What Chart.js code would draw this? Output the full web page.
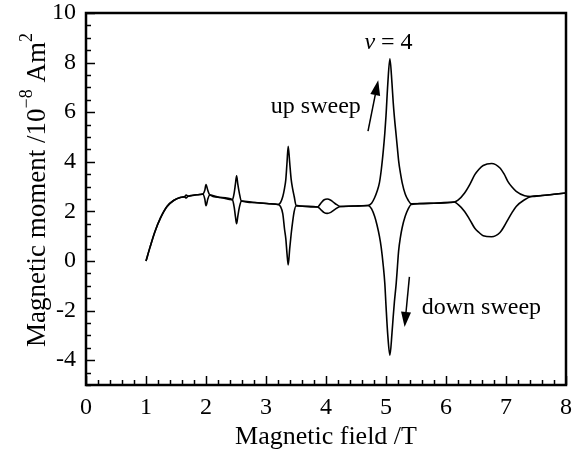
<!DOCTYPE html>
<html>
<head>
<meta charset="utf-8">
<script src="https://cdn.jsdelivr.net/npm/chart.js@4/dist/chart.umd.min.js"></script>
<style>
  html, body { margin: 0; padding: 0; background: #fff; }
  #wrap { width: 572px; height: 455px; }
</style>
</head>
<body>
<div id="wrap"><canvas id="chart" width="572" height="455"></canvas></div>
<script>
// magnetic field (T), shared by both sweeps
var field = [
    1.00, 1.07, 1.15, 1.24, 1.35, 1.46, 1.57, 1.64, 1.67, 1.70,
    1.85, 1.95, 1.98, 2.00, 2.03, 2.06, 2.24, 2.44, 2.47, 2.49,
    2.51, 2.53, 2.555, 2.59, 2.80, 3.05, 3.20, 3.24, 3.28, 3.31,
    3.33, 3.35, 3.37, 3.395, 3.42, 3.445, 3.47, 3.50, 3.86, 3.92,
    3.97, 4.02, 4.08, 4.15, 4.24, 4.50, 4.70, 4.76, 4.81, 4.85,
    4.89, 4.92, 4.955, 4.98, 5.00, 5.03, 5.065, 5.10, 5.12, 5.14,
    5.17, 5.19, 5.21, 5.24, 5.27, 5.32, 5.37, 5.42, 5.80, 6.14,
    6.20, 6.31, 6.40, 6.48, 6.55, 6.62, 6.76, 6.90, 6.97, 7.03,
    7.10, 7.17, 7.31, 7.42, 7.60, 7.80, 8.00
];

// magnetic moment (10^-8 Am^2)
var upSweep = [
    0.00, 0.58, 1.19, 1.73, 2.20, 2.44, 2.56, 2.59, 2.66, 2.61,
    2.67, 2.70, 2.85, 3.08, 2.85, 2.68, 2.56, 2.47, 2.75, 3.10,
    3.44, 3.10, 2.75, 2.42, 2.36, 2.31, 2.28, 2.35, 2.60, 2.95,
    3.28, 3.96, 4.63, 3.96, 3.28, 2.90, 2.60, 2.25, 2.18, 2.35,
    2.47, 2.50, 2.45, 2.32, 2.20, 2.22, 2.24, 2.33, 2.55, 2.80,
    3.15, 3.65, 4.45, 5.15, 5.85, 7.15, 8.15, 7.15, 6.40, 5.80,
    5.05, 4.55, 4.05, 3.55, 3.15, 2.70, 2.45, 2.31, 2.33, 2.38,
    2.45, 2.74, 3.10, 3.48, 3.70, 3.85, 3.93, 3.75, 3.50, 3.21,
    2.98, 2.81, 2.63, 2.60, 2.64, 2.69, 2.74
];

var downSweep = [
    0.00, 0.58, 1.19, 1.73, 2.20, 2.44, 2.56, 2.59, 2.54, 2.61,
    2.67, 2.70, 2.50, 2.23, 2.50, 2.66, 2.56, 2.47, 2.17, 1.80,
    1.50, 1.80, 2.15, 2.42, 2.36, 2.31, 2.28, 2.20, 1.90, 1.26,
    0.90, 0.30, -0.16, 0.50, 1.10, 1.60, 2.00, 2.22, 2.18, 2.05,
    1.95, 1.92, 1.96, 2.08, 2.20, 2.22, 2.24, 2.10, 1.80, 1.45,
    1.00, 0.55, -0.20, -0.90, -1.80, -3.00, -3.80, -2.90, -2.25, -1.65,
    -0.90, -0.25, 0.40, 0.95, 1.35, 1.80, 2.10, 2.28, 2.33, 2.38,
    2.28, 2.00, 1.65, 1.32, 1.15, 1.02, 0.98, 1.15, 1.40, 1.66,
    1.95, 2.20, 2.47, 2.60, 2.64, 2.69, 2.74
];

var xTickValues = [0, 1, 2, 3, 4, 5, 6, 7, 8];
var yTickValues = [-4, -2, 0, 2, 4, 6, 8, 10];

var serif = "'Liberation Serif', 'Times New Roman', serif";

function toPoints(ys) {
    return field.map((x, i) => ({ x: x, y: ys[i] }));
}

// inward ticks, frame, axis titles and annotations
var decorations = {
    id: "decorations",
    afterDraw(chart) {
        var ctx = chart.ctx;
        var area = chart.chartArea;
        var xs = chart.scales.x;
        var ys = chart.scales.y;
        ctx.save();
        ctx.strokeStyle = "#000";
        ctx.fillStyle = "#000";

        ctx.lineWidth = 1.5;
        for (var i = 0; i <= 40; i++) {
            var v = i * 0.2;
            var px = Math.round(xs.getPixelForValue(v)) + 0.5;
            var len = i % 5 === 0 ? 9 : 5;
            ctx.beginPath();
            ctx.moveTo(px, area.bottom);
            ctx.lineTo(px, area.bottom - len);
            ctx.stroke();
        }
        for (var j = 0; j <= 30; j++) {
            var w = -5 + j * 0.5;
            var py = Math.round(ys.getPixelForValue(w)) + 0.5;
            var l = j % 4 === 2 ? 9 : 5;
            ctx.beginPath();
            ctx.moveTo(area.left, py);
            ctx.lineTo(area.left + l, py);
            ctx.stroke();
        }

        ctx.lineWidth = 2.5;
        ctx.strokeRect(area.left, area.top, area.right - area.left, area.bottom - area.top);

        // x title
        ctx.font = "26px " + serif;
        ctx.textAlign = "center";
        ctx.textBaseline = "middle";
        ctx.fillText("Magnetic field /T", (area.left + area.right) / 2, 437);

        // y title with superscripts
        var parts = [
            ["Magnetic moment /10", 27, 0],
            ["\u22128", 18, -11],
            [" Am", 27, 0],
            ["2", 18, -11]
        ];
        var total = 0;
        parts.forEach(p => { ctx.font = p[1] + "px " + serif; total += ctx.measureText(p[0]).width; });
        ctx.translate(29, 190);
        ctx.rotate(-Math.PI / 2);
        ctx.textAlign = "left";
        var cx = -total / 2;
        parts.forEach(p => {
            ctx.font = p[1] + "px " + serif;
            ctx.fillText(p[0], cx, 9 + p[2]);
            cx += ctx.measureText(p[0]).width;
        });
        ctx.setTransform(1, 0, 0, 1, 0, 0);

        // nu = 4
        ctx.textAlign = "left";
        ctx.textBaseline = "alphabetic";
        ctx.font = "italic 24px " + serif;
        var nx = xs.getPixelForValue(4.64);
        var ny = ys.getPixelForValue(8.55);
        ctx.fillText("\u03bd", nx, ny);
        var nw = ctx.measureText("\u03bd").width;
        ctx.font = "24px " + serif;
        ctx.fillText(" = 4", nx + nw, ny);

        ctx.font = "24px " + serif;
        ctx.textAlign = "center";
        ctx.fillText("up sweep", xs.getPixelForValue(3.83), ys.getPixelForValue(5.95));
        ctx.fillText("down sweep", xs.getPixelForValue(6.59), ys.getPixelForValue(-2.15));

        function arrow(x1, y1, x2, y2) {
            var ax = xs.getPixelForValue(x1), ay = ys.getPixelForValue(y1);
            var bx = xs.getPixelForValue(x2), by = ys.getPixelForValue(y2);
            var ang = Math.atan2(by - ay, bx - ax);
            var head = 15, half = 5;
            var hx = bx - head * Math.cos(ang), hy = by - head * Math.sin(ang);
            ctx.lineWidth = 1.5;
            ctx.beginPath();
            ctx.moveTo(ax, ay);
            ctx.lineTo(hx, hy);
            ctx.stroke();
            ctx.beginPath();
            ctx.moveTo(bx, by);
            ctx.lineTo(hx + half * Math.sin(ang), hy - half * Math.cos(ang));
            ctx.lineTo(hx - half * Math.sin(ang), hy + half * Math.cos(ang));
            ctx.closePath();
            ctx.fill();
        }
        arrow(4.70, 5.24, 4.87, 7.29);
        arrow(5.39, -0.64, 5.31, -2.66);

        ctx.restore();
    }
};

new Chart(document.getElementById("chart"), {
    type: "line",
    data: {
        datasets: [{
            label: "up sweep",
            data: toPoints(upSweep),
            borderColor: "#000",
            borderWidth: 1.6,
            pointRadius: 0,
            cubicInterpolationMode: "monotone"
        }, {
            label: "down sweep",
            data: toPoints(downSweep),
            borderColor: "#000",
            borderWidth: 1.6,
            pointRadius: 0,
            cubicInterpolationMode: "monotone"
        }]
    },
    options: {
        responsive: false,
        animation: false,
        layout: { padding: { top: 13, right: 6, left: 0, bottom: 0 } },
        plugins: {
            legend: { display: false },
            tooltip: { enabled: false }
        },
        scales: {
            x: {
                type: "linear",
                min: 0,
                max: 8,
                afterBuildTicks: s => { s.ticks = xTickValues.map(v => ({ value: v })); },
                afterFit: s => { s.height = 70; s.paddingLeft = 0; s.paddingRight = 0; },
                grid: { display: false, drawTicks: false },
                border: { display: false },
                ticks: { color: "#000", padding: 8, font: { family: serif, size: 24 } }
            },
            y: {
                type: "linear",
                min: -5,
                max: 10,
                afterBuildTicks: s => { s.ticks = yTickValues.map(v => ({ value: v })); },
                afterFit: s => { s.width = 86; s.paddingTop = 0; s.paddingBottom = 0; },
                grid: { display: false, drawTicks: false },
                border: { display: false },
                ticks: { color: "#000", padding: 10, font: { family: serif, size: 24 } }
            }
        }
    },
    plugins: [decorations]
});
</script>
</body>
</html>
